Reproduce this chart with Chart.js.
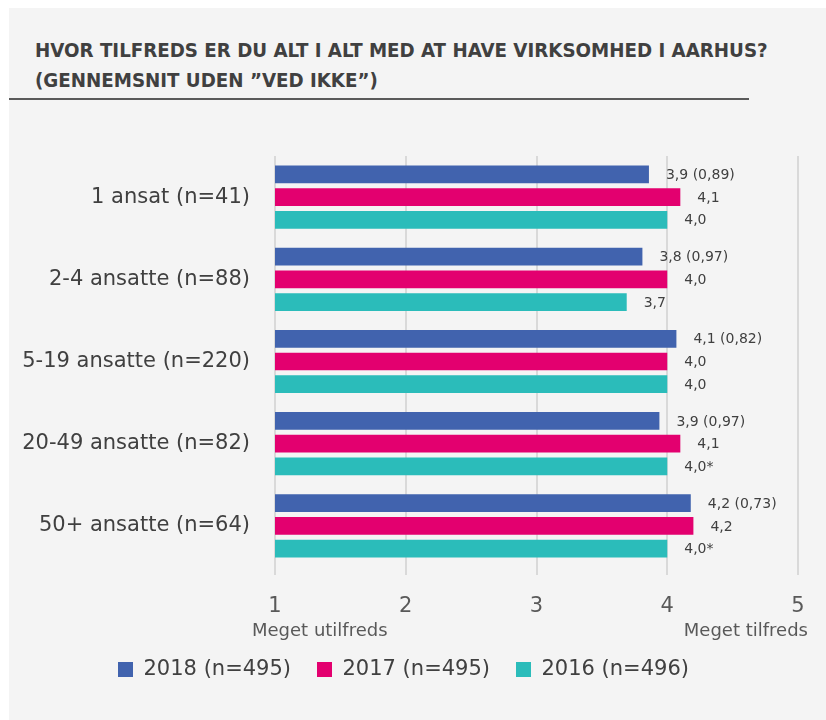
<!DOCTYPE html>
<html>
<head>
<meta charset="utf-8">
<script src="https://cdn.jsdelivr.net/npm/chart.js@4"></script>
<style>
  html, body { margin: 0; padding: 0; background: #ffffff; }
  #panel {
    position: absolute; left: 9px; top: 8px;
    width: 817px; height: 712px;
    background: #f4f4f4; overflow: hidden;
  }
  #title {
    position: absolute; left: 26px; top: 27px;
    font-family: "DejaVu Sans Condensed", "DejaVu Sans", sans-serif;
    font-weight: bold; font-size: 19px; line-height: 30px;
    color: #404040; white-space: nowrap;
    transform-origin: 0 0;
  }
  #rule {
    position: absolute; left: 0; top: 90px;
    width: 740px; height: 2px; background: #5a5a5a;
  }
  #chart { position: absolute; left: 0; top: 0; }
</style>
</head>
<body>
<div id="panel">
  <div id="title"><span id="t1">HVOR TILFREDS ER DU ALT I ALT MED AT HAVE VIRKSOMHED I AARHUS?</span><br>(GENNEMSNIT UDEN ”VED IKKE”)</div>
  <div id="rule"></div>
  <canvas id="chart" width="817" height="712"></canvas>
</div>
<script>
// Tilfredshed med at have virksomhed i Aarhus, fordelt på virksomhedsstørrelse
const categories = [
  "1 ansat (n=41)",
  "2-4 ansatte (n=88)",
  "5-19 ansatte (n=220)",
  "20-49 ansatte (n=82)",
  "50+ ansatte (n=64)",
];
const seriesNames = ["2018 (n=495)", "2017 (n=495)", "2016 (n=496)"];

const values2018 = [3.86, 3.81, 4.07, 3.94, 4.18];
const values2017 = [4.1, 4.0, 4.0, 4.1, 4.2];
const values2016 = [4.0, 3.69, 4.0, 4.0, 4.0];

const labels2018 = ["3,9 (0,89)", "3,8 (0,97)", "4,1 (0,82)", "3,9 (0,97)", "4,2 (0,73)"];
const labels2017 = ["4,1", "4,0", "4,0", "4,1", "4,2"];
const labels2016 = ["4,0", "3,7", "4,0", "4,0*", "4,0*"];

const xTicks = [1, 2, 3, 4, 5];
const scaleEnds = ["Meget utilfreds", "Meget tilfreds"];

const COLORS = {
  y2018: "#4163ae",
  y2017: "#e3006f",
  y2016: "#2bbcba",
  text: "#404040",
  muted: "#595959",
  grid: "#d9d9d9",
};
const FONT = "'DejaVu Sans', sans-serif";

// squeeze the title to the reference width
const t1 = document.getElementById("t1");
const titleEl = document.getElementById("title");
titleEl.style.transform = `scaleX(${733 / t1.offsetWidth})`;

const barLabels = [labels2018, labels2017, labels2016];

const valueLabelPlugin = {
  id: "valueLabels",
  afterDatasetsDraw(chart) {
    const { ctx } = chart;
    ctx.save();
    ctx.font = `14px ${FONT}`;
    ctx.fillStyle = COLORS.text;
    ctx.textAlign = "left";
    ctx.textBaseline = "middle";
    chart.data.datasets.forEach((ds, i) => {
      chart.getDatasetMeta(i).data.forEach((bar, j) => {
        ctx.fillText(barLabels[i][j], bar.x + 17, bar.y + 1);
      });
    });
    ctx.restore();
  },
};

const scaleEndsPlugin = {
  id: "scaleEnds",
  afterDraw(chart) {
    const { ctx, chartArea } = chart;
    const x = chart.scales.x;
    const y = chartArea.bottom + 64;
    ctx.save();
    ctx.font = `18px ${FONT}`;
    ctx.fillStyle = COLORS.muted;
    ctx.textBaseline = "middle";
    ctx.textAlign = "left";
    ctx.fillText(scaleEnds[0], x.getPixelForValue(xTicks[0]) - 23, y);
    ctx.textAlign = "right";
    ctx.fillText(scaleEnds[1], x.getPixelForValue(xTicks[xTicks.length - 1]) + 10, y);
    ctx.restore();
  },
};

new Chart(document.getElementById("chart"), {
  type: "bar",
  data: {
    labels: categories,
    datasets: [
      { label: seriesNames[0], data: values2018, backgroundColor: COLORS.y2018 },
      { label: seriesNames[1], data: values2017, backgroundColor: COLORS.y2017 },
      { label: seriesNames[2], data: values2016, backgroundColor: COLORS.y2016 },
    ],
  },
  options: {
    indexAxis: "y",
    responsive: false,
    animation: false,
    categoryPercentage: 0.83,
    barPercentage: 0.78,
    layout: { padding: { top: 148, right: 28, bottom: 30, left: 0 } },
    plugins: {
      legend: {
        position: "bottom",
        labels: {
          color: COLORS.text,
          font: { family: FONT, size: 21 },
          boxWidth: 15,
          boxHeight: 15,
          padding: 26,
        },
      },
      tooltip: { enabled: false },
    },
    scales: {
      x: {
        min: 1,
        max: 5,
        afterBuildTicks(scale) {
          scale.ticks = xTicks.map((v) => ({ value: v }));
        },
        afterFit(scale) { scale.height = 66; },
        ticks: {
          color: COLORS.muted,
          font: { family: FONT, size: 21 },
          padding: 19,
        },
        grid: { color: COLORS.grid, lineWidth: 2, tickLength: 8 },
        border: { display: false },
      },
      y: {
        afterFit(scale) { scale.width = 266; },
        ticks: {
          color: COLORS.text,
          font: { family: FONT, size: 21 },
          padding: 25,
        },
        grid: { display: false, drawTicks: false },
        border: { display: false },
      },
    },
  },
  plugins: [valueLabelPlugin, scaleEndsPlugin],
});
</script>
</body>
</html>
